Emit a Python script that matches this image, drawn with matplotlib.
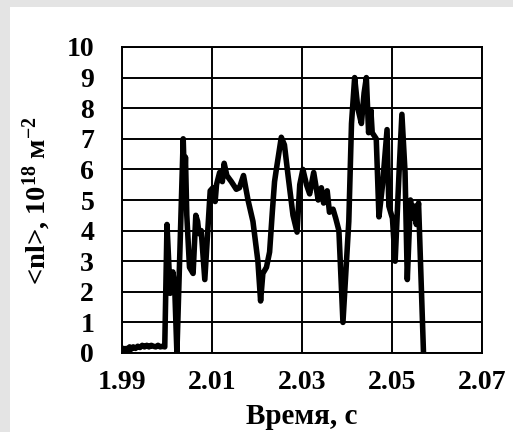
import matplotlib
matplotlib.use('Agg')
import matplotlib.pyplot as plt
from matplotlib.patches import Rectangle

# time, s
time_s = [1.9900, 1.9903, 1.9906, 1.9910, 1.9913, 1.9917, 1.9920, 1.9925, 1.9930,
          1.9935, 1.9940, 1.9945, 1.9950, 1.9955, 1.9960, 1.9965, 1.9970, 1.9975,
          1.9980, 1.9985, 1.9990, 1.9995,
          2.0000, 2.0007, 2.0013, 2.0017, 2.0022, 2.0036, 2.0039, 2.0041, 2.0044,
          2.0050, 2.0058, 2.0064, 2.0068, 2.0071, 2.0076, 2.0084, 2.0096, 2.0102,
          2.0107, 2.0110, 2.0117, 2.0123, 2.0127, 2.0133, 2.0143, 2.0154, 2.0161,
          2.0170, 2.0180, 2.0191, 2.0202, 2.0208, 2.0213, 2.0221, 2.0228, 2.0234,
          2.0239, 2.0243, 2.0254, 2.0261, 2.0269, 2.0280, 2.0289, 2.0295, 2.0302,
          2.0310, 2.0317, 2.0326, 2.0336, 2.0343, 2.0348, 2.0356, 2.0361, 2.0369,
          2.0375, 2.0382, 2.0391, 2.0404, 2.0410, 2.0417, 2.0424, 2.0432, 2.0438,
          2.0443, 2.0448, 2.0453, 2.0456, 2.0465, 2.0471, 2.0479, 2.0489, 2.0493,
          2.0501, 2.0507, 2.0516, 2.0522, 2.0529, 2.0534, 2.0541, 2.0547, 2.0550,
          2.0554, 2.0559, 2.0570]
# <nl>, 10^18 m^-2
density = [0.05, 0.15, 0.08, 0.15, 0.10, 0.20, 0.12, 0.20, 0.15,
           0.22, 0.18, 0.25, 0.20, 0.25, 0.20, 0.25, 0.22, 0.20,
           0.25, 0.20, 0.22, 0.20,
           4.2, 1.95, 2.65, 2.2, 0.0, 7.0, 5.5, 6.4, 4.5,
           2.8, 2.6, 4.5, 4.3, 3.9, 4.0, 2.4, 5.3, 5.4,
           4.95, 5.5, 5.9, 5.6, 6.2, 5.8, 5.6, 5.35, 5.4,
           5.8, 5.0, 4.3, 3.0, 1.7, 2.6, 2.8, 3.3, 4.6,
           5.6, 6.0, 7.05, 6.8, 5.8, 4.5, 3.95, 5.5, 6.0,
           5.5, 5.2, 5.9, 5.0, 5.4, 4.9, 5.3, 4.6, 4.7,
           4.4, 4.0, 1.0, 4.3, 7.5, 9.0, 8.0, 7.5, 8.5,
           9.0, 7.2, 7.95, 7.2, 7.0, 4.45, 5.5, 7.3, 4.8,
           4.4, 3.0, 6.0, 7.8, 5.9, 2.4, 5.0, 4.4, 4.8,
           4.2, 4.9, 0.0]

x_ticks = [1.99, 2.01, 2.03, 2.05, 2.07]
y_ticks = list(range(0, 11))

plt.rcParams['font.family'] = 'Liberation Serif'
plt.rcParams['font.weight'] = 'bold'
plt.rcParams['mathtext.fontset'] = 'custom'
plt.rcParams['mathtext.rm'] = 'Liberation Serif:bold'
plt.rcParams['mathtext.it'] = 'Liberation Serif:bold'
plt.rcParams['mathtext.default'] = 'rm'

fig = plt.figure(figsize=(5.13, 4.32), dpi=100, facecolor='#e4e4e4')
fig.patches.append(Rectangle((10 / 513, 0), 1, 1 - 7 / 432, transform=fig.transFigure,
                             facecolor='white', edgecolor='none', zorder=-5))
ax = fig.add_axes([122 / 513, 1 - 353 / 432, 360 / 513, 306 / 432])

ax.plot(time_s, density, color='black', lw=4.0, solid_joinstyle='round', zorder=3)

ax.set_xlim(1.99, 2.07)
ax.set_ylim(0, 10)
ax.set_xticks(x_ticks)
ax.set_xticklabels([f'{t:.2f}' for t in x_ticks])
ax.set_yticks(y_ticks)
ax.grid(True, color='black', lw=1.4)
ax.tick_params(length=0, labelsize=20)
ax.tick_params(axis='x', pad=12)
ax.tick_params(axis='y', pad=20)
for s in ax.spines.values():
    s.set_linewidth(1.4)

ax.set_xlabel('Время, с', fontsize=21, fontweight='bold')
ax.set_ylabel('<nl>, 10$^{18}$ м$^{-2}$', fontsize=20.5, fontweight='bold')
ax.xaxis.label.set_va('center')
ax.yaxis.label.set_va('center')
ax.xaxis.set_label_coords(0.5, (353 - 416) / 306)
ax.yaxis.set_label_coords((37 - 122) / 360, 0.5)

fig.savefig('out.png', dpi=100, facecolor=fig.get_facecolor())
